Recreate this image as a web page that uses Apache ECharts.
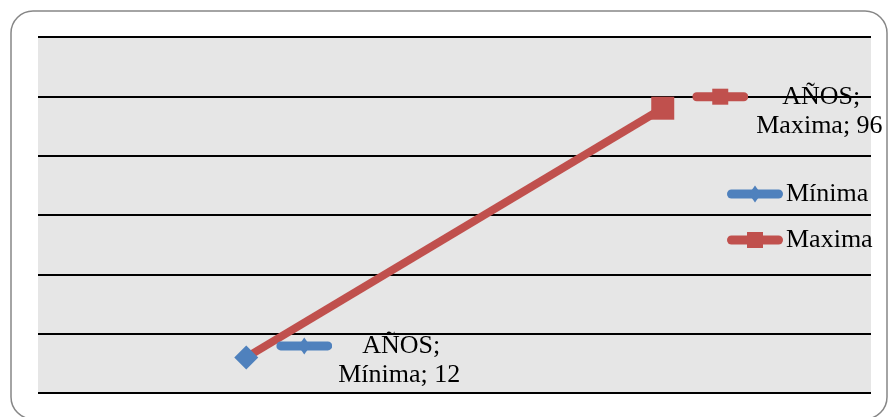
<!DOCTYPE html>
<html>
<head>
<meta charset="utf-8">
<script src="https://cdn.jsdelivr.net/npm/echarts@6/dist/echarts.min.js"></script>
<style>
  html, body { margin: 0; padding: 0; background: #fff; }
  #chart { width: 888px; height: 417px; }
</style>
</head>
<body>
<div id="chart"></div>
<script>
// data
const categories = ['Mínima', 'Maxima'];
const labelCategory = 'AÑOS';
const minimaValues = [12, null];
const maximaValues = [12, 96];
const yMin = 0;
const yMax = 120;
const yStep = 20;

const BLUE = '#4f81bd';
const RED = '#c0504d';
const FONT = '"Liberation Serif", "Times New Roman", serif';

// legend key pictures (line with marker), as in the spreadsheet
const keyLine = (c) =>
  `<line x1='4.5' y1='9' x2='51.5' y2='9' stroke='${c}' stroke-width='9' stroke-linecap='round'/>`;
const svgUrl = (body) =>
  'data:image/svg+xml;charset=utf-8,' +
  encodeURIComponent(`<svg xmlns='http://www.w3.org/2000/svg' width='56' height='18'>${body}</svg>`);
const blueKey = svgUrl(keyLine(BLUE) + `<polygon points='28,0.5 34,9 28,17.5 22,9' fill='${BLUE}'/>`);
const redKey = svgUrl(keyLine(RED) + `<rect x='20' y='1' width='16' height='16' fill='${RED}'/>`);

const labelRich = (key, gap1, gap2) => ({
  k: { width: 56, height: 18, backgroundColor: { image: key } },
  s: { width: gap1 },
  s2: { width: gap2 },
  t: { fontFamily: FONT, fontSize: 26, color: '#000', lineHeight: 29 },
});

const pointLabel = (key, gap1, gap2) => ({
  show: true,
  position: 'right',
  distance: 18,
  offset: [0, 3],
  align: 'left',
  formatter: (p) => `{k|}{s|}{t|${labelCategory};}\n{s2|}{t|${p.seriesName}; ${p.value}}`,
  rich: labelRich(key, gap1, gap2),
});

const chart = echarts.init(document.getElementById('chart'), null, { renderer: 'canvas' });

const option = {
  animation: false,
  backgroundColor: '#fff',
  graphic: [
    {
      type: 'rect',
      shape: { x: 11, y: 11, width: 876, height: 408, r: 22 },
      style: { fill: 'none', stroke: '#878787', lineWidth: 1.5 },
      z: 100,
    },
  ],
  grid: {
    left: 38,
    right: 17,
    top: 37,
    bottom: 24,
    show: true,
    backgroundColor: '#e6e6e6',
    borderWidth: 0,
  },
  legend: {
    orient: 'vertical',
    left: 722,
    top: 175,
    itemWidth: 56,
    itemHeight: 18,
    itemGap: 18,
    data: [
      { name: 'Mínima', icon: 'image://' + blueKey },
      { name: 'Maxima', icon: 'image://' + redKey },
    ],
    textStyle: {
      fontFamily: FONT,
      fontSize: 26,
      color: '#000',
      lineHeight: 28,
      padding: [0, 0, 0, -2],
    },
  },
  xAxis: {
    type: 'category',
    data: categories,
    axisLine: { show: false },
    axisTick: { show: false },
    axisLabel: { show: false },
  },
  yAxis: {
    type: 'value',
    min: yMin,
    max: yMax,
    interval: yStep,
    axisLine: { show: false },
    axisTick: { show: false },
    axisLabel: { show: false },
    splitLine: { lineStyle: { color: '#000', width: 2 } },
  },
  series: [
    {
      name: 'Maxima',
      type: 'line',
      z: 2,
      color: RED,
      lineStyle: { color: RED, width: 8 },
      symbol: 'rect',
      symbolSize: 23,
      itemStyle: { color: RED },
      data: maximaValues.map((v, i) =>
        i === maximaValues.length - 1
          ? { value: v, label: pointLabel(redKey, 34, 64) }
          : { value: v, symbol: 'none' }
      ),
    },
    {
      name: 'Mínima',
      type: 'line',
      z: 3,
      color: BLUE,
      lineStyle: { color: BLUE, width: 8 },
      symbol: 'diamond',
      symbolSize: 24,
      itemStyle: { color: BLUE },
      data: minimaValues.map((v) =>
        v == null ? v : { value: v, label: pointLabel(blueKey, 30, 62) }
      ),
    },
  ],
};

chart.setOption(option);
</script>
</body>
</html>
